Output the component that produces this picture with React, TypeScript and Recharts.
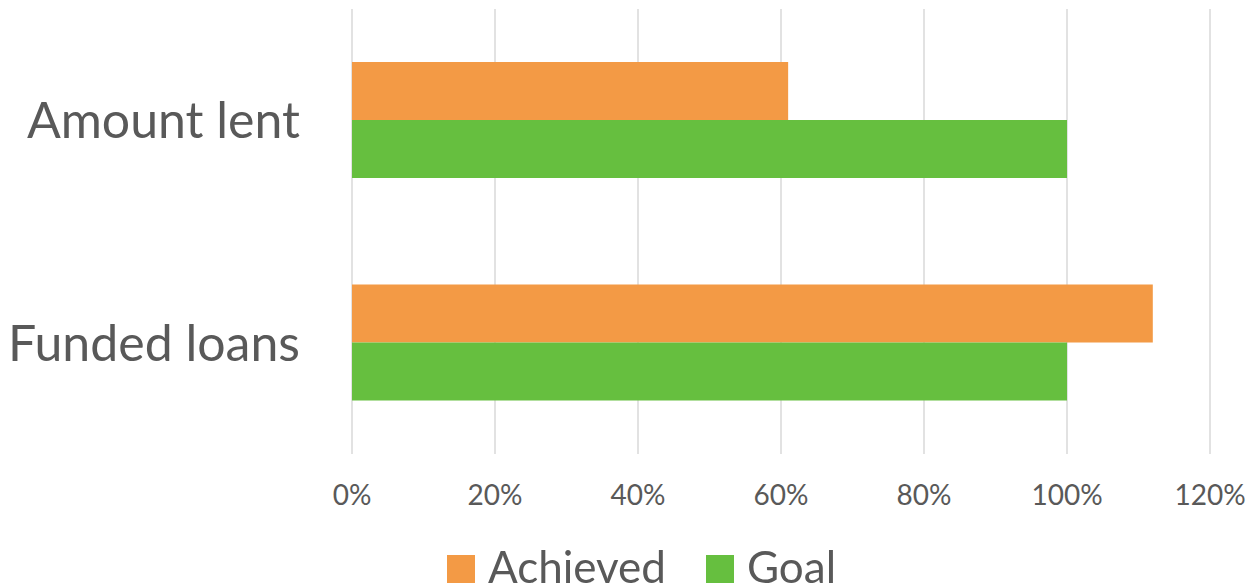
import { BarChart, Bar, XAxis, YAxis, CartesianGrid, Legend } from 'recharts';

const categories = ['Amount lent', 'Funded loans'];
const achieved = [61, 112];
const goal = [100, 100];
const xTicks = [0, 20, 40, 60, 80, 100, 120];

const data = categories.map((name, i) => ({ name, achieved: achieved[i], goal: goal[i] }));

const FONT = 'Lato, "Open Sans", sans-serif';
const TEXT = '#595959';

// legend drawn as plain items: square + label, Excel style
const renderLegend = (props: any) => {
  const { payload = [] } = props;
  return (
    <div style={{ height: 60, display: 'flex', justifyContent: 'center', paddingLeft: 73, paddingTop: 14, boxSizing: 'border-box' }}>
      {payload.map((entry: any, i: number) => (
        <div key={entry.value} style={{ display: 'flex', alignItems: 'flex-start', marginLeft: i > 0 ? 40 : 0 }}>
          <div style={{ width: 28, height: 28, background: entry.color, marginTop: 15, marginRight: 13 }} />
          <span style={{ color: TEXT, fontSize: 44, fontFamily: FONT, lineHeight: 'normal' }}>{entry.value}</span>
        </div>
      ))}
    </div>
  );
};

export default function App() {
  return (
    <div style={{ position: 'fixed', left: 0, top: 0, background: '#fff' }}>
      <BarChart
        width={1250}
        height={586}
        data={data}
        layout="vertical"
        margin={{ top: 9, right: 40, left: 0, bottom: 0 }}
        barGap={0}
        style={{ fontFamily: FONT }}
      >
        <CartesianGrid horizontal={false} stroke="#d9d9d9" strokeWidth={1.5} />
        <XAxis
          type="number"
          domain={[0, 120]}
          ticks={xTicks}
          tickFormatter={(v) => `${v}%`}
          axisLine={false}
          tickLine={false}
          tickSize={0}
          tickMargin={31}
          height={72}
          tick={{ fill: TEXT, fontSize: 28, fontFamily: FONT }}
          interval={0}
        />
        <YAxis
          type="category"
          dataKey="name"
          width={352}
          axisLine={false}
          tickLine={false}
          tickSize={0}
          tickMargin={52}
          tick={{ fill: TEXT, fontSize: 50, fontFamily: FONT }}
        />
        <Legend verticalAlign="bottom" align="center" content={renderLegend} />
        <Bar dataKey="achieved" name="Achieved" fill="#F39A45" barSize={58} isAnimationActive={false} />
        <Bar dataKey="goal" name="Goal" fill="#66BF3F" barSize={58} isAnimationActive={false} />
      </BarChart>
    </div>
  );
}
